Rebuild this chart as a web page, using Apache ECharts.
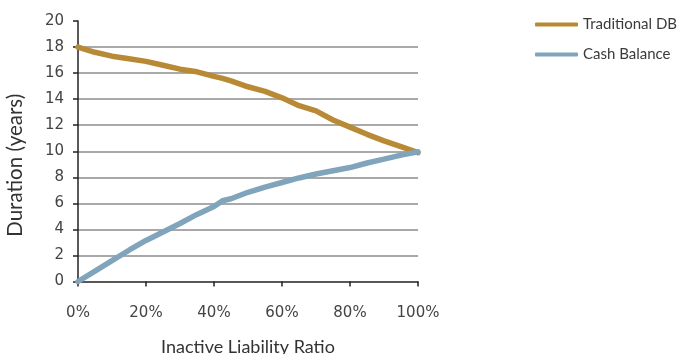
<!DOCTYPE html>
<html>
<head>
<meta charset="utf-8">
<script src="https://cdn.jsdelivr.net/npm/echarts@6/dist/echarts.min.js"></script>
<style>
  html, body { margin: 0; padding: 0; background: #ffffff; }
  #chart { width: 684px; height: 354px; }
</style>
</head>
<body>
<div id="chart"></div>
<script>
// Inactive liability ratio (%) and plan duration (years)
const ratios = [0, 5, 10, 15, 20, 25, 30, 35, 40, 42.5, 45, 50, 55, 60, 65, 70, 75, 80, 85, 90, 95, 100];
const traditionalDB = [18.0, 17.6, 17.3, 17.1, 16.9, 16.6, 16.3, 16.1, 15.75, 15.6, 15.4, 14.95, 14.6, 14.1, 13.5, 13.1, 12.4, 11.85, 11.3, 10.8, 10.35, 9.9];
const cashBalance = [0, 0.8, 1.6, 2.4, 3.15, 3.8, 4.45, 5.15, 5.75, 6.2, 6.35, 6.85, 7.25, 7.6, 7.95, 8.25, 8.5, 8.75, 9.1, 9.4, 9.7, 9.95];
const seriesNames = ['Traditional DB', 'Cash Balance'];
const yTicks = { min: 0, max: 20, step: 2 };
const xTicks = { min: 0, max: 100, step: 20 };

const pairs = (ys) => ratios.map((x, i) => [x, ys[i]]);

const chart = echarts.init(document.getElementById('chart'));
chart.setOption({
  animation: false,
  backgroundColor: '#ffffff',
  textStyle: { fontFamily: 'Lato' },
  grid: { left: 78, right: 266, top: 21, bottom: 72.5, outerBoundsMode: 'none', containLabel: false },
  legend: {
    orient: 'vertical',
    left: 530,
    top: 12,
    icon: 'roundRect',
    itemWidth: 43,
    itemHeight: 4,
    itemGap: 15,
    data: seriesNames,
    textStyle: { fontFamily: 'Lato', fontSize: 15, color: '#3a3a3a', padding: [0, 0, 0, 0] }
  },
  xAxis: {
    type: 'value',
    min: xTicks.min,
    max: xTicks.max,
    interval: xTicks.step,
    name: 'Inactive Liability Ratio',
    nameLocation: 'middle',
    nameGap: 57,
    nameTextStyle: { fontFamily: 'Lato', fontSize: 18, color: '#333' },
    axisLine: { lineStyle: { color: '#222', width: 1.5 } },
    axisTick: { show: true, length: 5, lineStyle: { color: '#222', width: 1.5 } },
    axisLabel: {
      formatter: '{value}%',
      margin: 24,
      fontFamily: 'DejaVu Sans',
      fontSize: 15,
      color: '#444'
    },
    splitLine: { show: false }
  },
  yAxis: {
    type: 'value',
    min: yTicks.min,
    max: yTicks.max,
    interval: yTicks.step,
    name: 'Duration (years)',
    nameLocation: 'middle',
    nameGap: 52,
    nameTextStyle: { fontFamily: 'Lato', fontSize: 20.5, color: '#333', padding: [0, 28, 0, 0] },
    axisLine: { show: true, lineStyle: { color: '#222', width: 1.5 } },
    axisTick: { show: true, length: 5, lineStyle: { color: '#222', width: 1.5 } },
    axisLabel: { margin: 14, fontFamily: 'DejaVu Sans', fontSize: 15, color: '#444' },
    splitLine: {
      show: true,
      showMinLine: false,
      showMaxLine: false,
      lineStyle: { color: '#8d8d8d', width: 1.5 }
    }
  },
  series: [
    {
      name: seriesNames[0],
      type: 'line',
      data: pairs(traditionalDB),
      showSymbol: false,
      symbol: 'none',
      lineStyle: { color: '#b98a35', width: 5.5, cap: 'round', join: 'round' },
      itemStyle: { color: '#b98a35' }
    },
    {
      name: seriesNames[1],
      type: 'line',
      data: pairs(cashBalance),
      showSymbol: false,
      symbol: 'none',
      lineStyle: { color: '#80a4bb', width: 5.5, cap: 'round', join: 'round' },
      itemStyle: { color: '#80a4bb' }
    }
  ]
});
</script>
</body>
</html>
